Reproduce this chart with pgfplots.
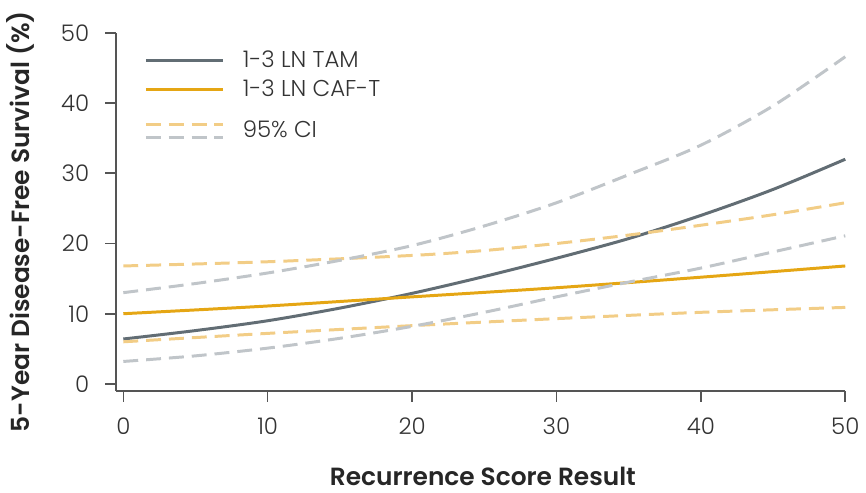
\documentclass[border=0pt]{standalone}
\usepackage{pgfplots}
\pgfplotsset{compat=1.18}
\usepackage{fontspec}
\setmainfont{Poppins}[UprightFont={* Light}, BoldFont={* SemiBold}]
\definecolor{tam}{HTML}{626D74}
\definecolor{caf}{HTML}{E5A614}
\definecolor{cafci}{HTML}{F2CD86}
\definecolor{tamci}{HTML}{C0C5C9}
\definecolor{axc}{HTML}{555555}
\begin{document}
\begin{tikzpicture}
\begin{axis}[
  scale only axis,
  width=366.5pt, height=180pt,
  xmin=-0.5, xmax=50, ymin=-1, ymax=50,
  axis x line*=bottom, axis y line*=left,
  axis line style={axc, line width=0.8pt, -},
  xtick={0,10,...,50}, ytick={0,10,...,50},
  tick align=outside, major tick length=5.5pt,
  tick style={axc, line width=0.8pt},
  x tick label style={yshift=-4.5pt},
  y tick label style={xshift=-4.5pt},
  /pgf/number format/assume math mode=true,
  tick label style={font=\fontsize{11.5}{13}\selectfont, text=black!80},
  xlabel={\textbf{Recurrence Score Result}},
  ylabel={\textbf{5-Year Disease-Free Survival (\%)}},
  label style={font=\fontsize{12.5}{14}\selectfont, text=black!85},
  xlabel style={at={(axis description cs:0.503,-0.24)}, anchor=center},
  ylabel style={at={(axis description cs:-0.131,0.473)}, anchor=center},
  clip=false,
  legend cell align=left,
  legend style={draw=none, fill=none, at={(rel axis cs:0,1)}, anchor=north west,
    xshift=11pt, yshift=-5pt, font=\fontsize{11.5}{13}\selectfont, text=black!80,
    row sep=0.3pt, column sep=7pt},
  legend image code/.code={\draw[#1] (0pt,0pt) -- (39pt,0pt);},
]
\addplot[tam, line width=1.5pt, smooth] coordinates {
(0,6.4)(5,7.6)(10,9.0)(15,10.8)(20,12.9)(25,15.3)(30,17.9)(35,20.7)(40,24.0)(45,27.7)(50,32.0)};
\addlegendentry{1-3 LN TAM}
\addplot[caf, line width=1.5pt, smooth] coordinates {
(0,10.0)(10,11.1)(20,12.4)(30,13.7)(40,15.2)(50,16.8)};
\addlegendentry{1-3 LN CAF-T}
\addlegendimage{legend image code/.code={
  \path (0pt,13.5pt);
  \draw[cafci, line width=1.5pt, dash pattern=on 7.5pt off 4pt] (0pt,3.25pt) -- (39pt,3.25pt);
  \draw[tamci, line width=1.5pt, dash pattern=on 7.5pt off 4pt] (0pt,-3.25pt) -- (39pt,-3.25pt);}}
\addlegendentry{95\% CI}
\addplot[cafci, line width=1.5pt, dash pattern=on 7.5pt off 4pt, smooth, forget plot] coordinates {
(0,16.8)(10,17.4)(20,18.3)(25,19.0)(30,20.0)(35,21.2)(40,22.6)(45,24.1)(50,25.8)};
\addplot[cafci, line width=1.5pt, dash pattern=on 7.5pt off 4pt, smooth, forget plot] coordinates {
(0,6.0)(10,7.2)(20,8.3)(30,9.3)(40,10.2)(50,10.9)};
\addplot[tamci, line width=1.5pt, dash pattern=on 7.5pt off 4pt, smooth, forget plot] coordinates {
(0,13.0)(5,14.3)(10,15.8)(15,17.6)(20,19.7)(25,22.5)(30,25.8)(35,29.8)(40,34.0)(45,39.6)(50,46.6)};
\addplot[tamci, line width=1.5pt, dash pattern=on 7.5pt off 4pt, smooth, forget plot] coordinates {
(0,3.2)(5,4.0)(10,5.1)(15,6.5)(20,8.2)(25,10.2)(30,12.4)(35,14.5)(40,16.5)(45,18.8)(50,21.1)};
\end{axis}
\path ([shift={(-58pt,16.5pt)}]current axis.north west) rectangle ([shift={(8.5pt,-48pt)}]current axis.south east);
\end{tikzpicture}
\end{document}
